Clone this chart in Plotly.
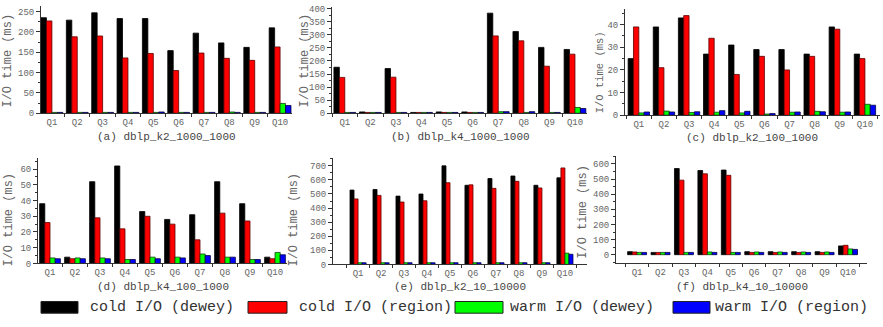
import plotly.graph_objects as go

W, H = 883, 327

queries = [f"Q{i}" for i in range(1, 11)]
series_names = ["cold I/O (dewey)", "cold I/O (region)", "warm I/O (dewey)", "warm I/O (region)"]
colors = ["#000000", "#ff0000", "#00ff00", "#0000ff"]
outline = ["#000000", "#5a0000", "#104010", "#000040"]

# (a) dblp_k2_1000_1000
a_cold_dewey = [235, 229, 247, 233, 233, 154, 197, 173, 162, 210]
a_cold_region = [227, 188, 190, 136, 147, 105, 148, 135, 130, 163]
a_warm_dewey = [2, 2, 2, 2, 2, 2, 2, 3, 2, 24]
a_warm_region = [2, 2, 2, 2, 3, 2, 2, 2, 2, 19]

# (b) dblp_k4_1000_1000
b_cold_dewey = [176, 5, 171, 3, 5, 5, 383, 313, 252, 244]
b_cold_region = [137, 3, 138, 3, 3, 3, 296, 277, 180, 226]
b_warm_dewey = [3, 3, 3, 3, 3, 3, 6, 3, 3, 22]
b_warm_region = [3, 3, 3, 3, 3, 3, 6, 6, 3, 18]

# (c) dblp_k2_100_1000
c_cold_dewey = [25, 39, 43, 27, 31, 29, 29, 27, 39, 27]
c_cold_region = [39, 21, 44, 34, 18, 26, 20, 26, 38, 25]
c_warm_dewey = [1.0, 1.8, 1.2, 1.3, 1.0, 0.5, 1.3, 1.7, 1.3, 4.8]
c_warm_region = [1.4, 1.4, 1.5, 2.0, 1.7, 0.7, 1.4, 1.5, 1.4, 4.4]

# (d) dblp_k4_100_1000
d_cold_dewey = [38, 4, 52, 62, 33, 28, 31, 52, 38, 4]
d_cold_region = [26, 3, 29, 22, 30, 25, 15, 32, 27, 3]
d_warm_dewey = [3.5, 3.5, 3.5, 2.5, 4, 4, 6, 4, 2.5, 7]
d_warm_region = [3, 3, 3, 2.5, 3, 3.5, 5, 4, 2.5, 5.5]

# (e) dblp_k2_10_10000
e_cold_dewey = [528, 532, 485, 500, 700, 562, 610, 628, 562, 615]
e_cold_region = [465, 490, 443, 452, 580, 565, 540, 590, 543, 685]
e_warm_dewey = [12, 12, 12, 12, 12, 12, 12, 12, 12, 80]
e_warm_region = [12, 12, 12, 12, 12, 12, 12, 12, 12, 72]

# (f) dblp_k4_10_10000
f_cold_dewey = [20, 15, 570, 557, 560, 20, 20, 20, 20, 58]
f_cold_region = [18, 15, 493, 535, 525, 15, 15, 15, 15, 62]
f_warm_dewey = [15, 15, 15, 18, 15, 18, 18, 18, 18, 38]
f_warm_region = [15, 15, 15, 15, 15, 15, 15, 15, 15, 35]

titles = ["(a) dblp_k2_1000_1000", "(b) dblp_k4_1000_1000", "(c) dblp_k2_100_1000",
          "(d) dblp_k4_100_1000", "(e) dblp_k2_10_10000", "(f) dblp_k4_10_10000"]
y_title = "I/O time (ms)"

data = [
    [a_cold_dewey, a_cold_region, a_warm_dewey, a_warm_region],
    [b_cold_dewey, b_cold_region, b_warm_dewey, b_warm_region],
    [c_cold_dewey, c_cold_region, c_warm_dewey, c_warm_region],
    [d_cold_dewey, d_cold_region, d_warm_dewey, d_warm_region],
    [e_cold_dewey, e_cold_region, e_warm_dewey, e_warm_region],
    [f_cold_dewey, f_cold_region, f_warm_dewey, f_warm_region],
]

# layout per panel, in pixels: x0, x1, ytop, ybottom ; ranges
panels = [
    dict(px=(41, 292), py=(4, 114), xr=(-0.43, 9.47), yr=(0, 264), dt=50, mdt=25, g=0.86,
         title=(166, 138), ytl=(8, 60), yts=12),
    dict(px=(332, 587), py=(5, 114), xr=(-0.5, 9.47), yr=(0, 407), dt=50, mdt=25, g=0.85,
         title=(460, 138), ytl=(305, 60), yts=12),
    dict(px=(625, 880), py=(7, 116), xr=(-0.55, 9.6), yr=(0, 47), dt=10, mdt=5, g=0.85,
         title=(752, 139), ytl=(600, 72), yts=10.5),
    dict(px=(38, 287), py=(160, 268), xr=(-0.48, 9.48), yr=(0, 67), dt=10, mdt=5, g=0.83,
         title=(163, 292), ytl=(9, 223), yts=12),
    dict(px=(333, 587), py=(160, 269), xr=(-1.09, 9.96), yr=(0, 755), dt=100, mdt=50, g=0.70,
         title=(460, 292), ytl=(294, 223), yts=12),
    dict(px=(616, 867), py=(158, 268), xr=(-0.9, 9.81), yr=(-58, 652), dt=100, mdt=50, g=0.81,
         title=(742, 292), ytl=(583, 215), yts=12),
]

FONT = "Liberation Mono, DejaVu Sans Mono, monospace"
fig = go.Figure()
xpos = list(range(len(queries)))
annotations = []
for i, (p, series) in enumerate(zip(panels, data)):
    n = "" if i == 0 else str(i + 1)
    g = p["g"]
    w = g / 4
    for k, vals in enumerate(series):
        fig.add_trace(go.Bar(
            x=xpos, y=vals, name=series_names[k], showlegend=False,
            width=w, offset=-g / 2 + k * w,
            marker=dict(color=colors[k], line=dict(color=outline[k], width=0.8)),
            xaxis="x" + n, yaxis="y" + n,
        ))
    x0, x1 = p["px"]
    yt, yb = p["py"]
    fig.layout["xaxis" + n] = dict(
        domain=[x0 / W, x1 / W], anchor="y" + n, range=list(p["xr"]),
        tickmode="array", tickvals=xpos, ticktext=queries, ticks="",
        showline=True, linecolor="#333", linewidth=1, showgrid=False, zeroline=False,
        tickfont=dict(family=FONT, size=9, color="#666"),
        minor=dict(tickmode="array", tickvals=[v - 0.5 for v in xpos] + [9.5],
                   ticks="outside", ticklen=3, tickcolor="#333"),
    )
    fig.layout["yaxis" + n] = dict(
        domain=[1 - yb / H, 1 - yt / H], anchor="x" + n, range=list(p["yr"]),
        tick0=0, dtick=p["dt"], ticks="outside", ticklen=4, tickcolor="#333",
        showline=True, linecolor="#333", linewidth=1, showgrid=False, zeroline=False,
        tickfont=dict(family=FONT, size=9, color="#666"),
        minor=dict(dtick=p["mdt"], ticks="outside", ticklen=2, tickcolor="#333"),
    )
    tx, ty = p["title"]
    annotations.append(dict(text=titles[i], x=tx / W, y=1 - ty / H, xref="paper", yref="paper",
                            showarrow=False, xanchor="center", yanchor="middle",
                            font=dict(family=FONT, size=11, color="#444")))
    lx, ly = p["ytl"]
    annotations.append(dict(text=y_title, x=lx / W, y=1 - ly / H, xref="paper", yref="paper",
                            showarrow=False, xanchor="center", yanchor="middle", textangle=-90,
                            font=dict(family=FONT, size=p["yts"], color="#666")))

# legend (drawn as boxes + labels)
legend_boxes = [(41, 78), (248, 287), (455, 503), (673, 710)]
legend_text_x = [88, 297, 508, 713]
shapes = []
for k in range(4):
    bx0, bx1 = legend_boxes[k]
    shapes.append(dict(type="rect", xref="paper", yref="paper",
                       x0=bx0 / W, x1=bx1 / W, y0=1 - 319 / H, y1=1 - 307 / H,
                       fillcolor=colors[k], line=dict(color="#222", width=1)))
    annotations.append(dict(text=series_names[k], x=legend_text_x[k] / W, y=1 - 313 / H,
                            xref="paper", yref="paper", showarrow=False,
                            xanchor="left", yanchor="middle",
                            font=dict(family=FONT, size=15, color="#333")))

fig.update_layout(
    width=W, height=H, margin=dict(l=0, r=0, t=0, b=0),
    paper_bgcolor="white", plot_bgcolor="white",
    barmode="overlay", annotations=annotations, shapes=shapes,
    font=dict(family=FONT),
)
fig.write_html("out.html")
